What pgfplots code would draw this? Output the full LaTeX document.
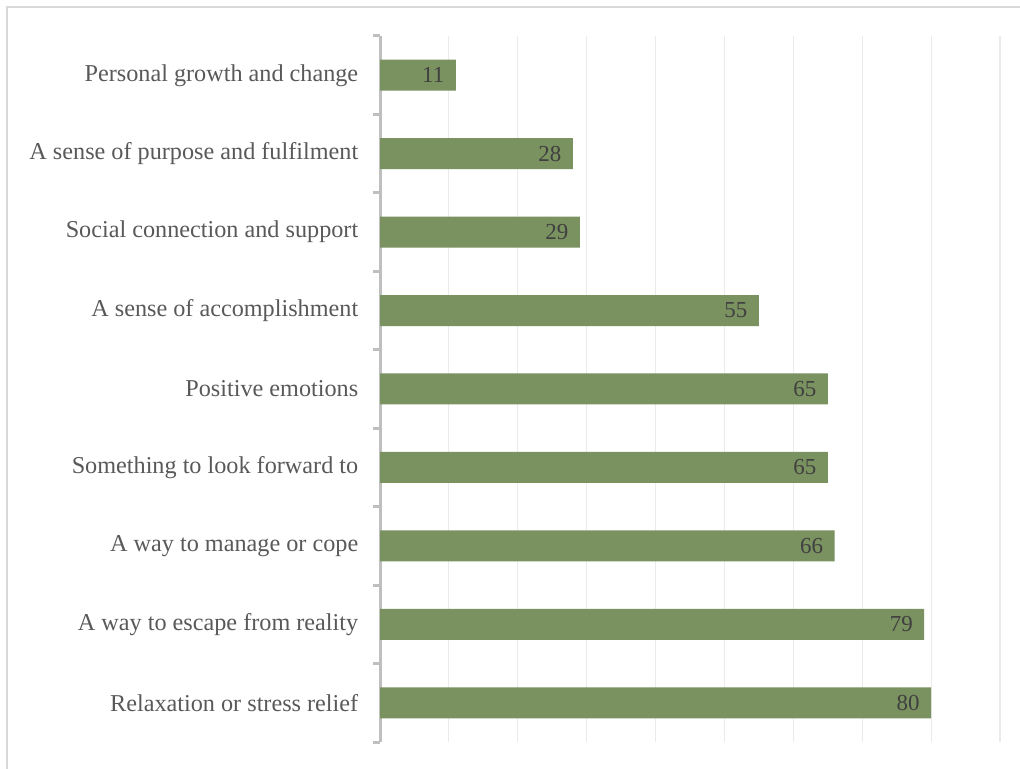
\documentclass[border=0pt]{standalone}
\usepackage{pgfplots}
\pgfplotsset{compat=1.18}
\usepackage{fontspec}
\setmainfont{Liberation Serif}
\definecolor{barc}{RGB}{122,145,96}
\definecolor{framec}{RGB}{217,217,217}
\definecolor{gridc}{RGB}{235,235,235}
\definecolor{axisc}{RGB}{191,191,191}
\definecolor{labc}{RGB}{89,89,89}
\definecolor{datc}{RGB}{64,64,64}
\begin{document}
\begin{tikzpicture}[x=1bp,y=1bp]
\useasboundingbox (0,0) rectangle (1020,769);
\fill[white] (0,0) rectangle (1020,769);
\draw[color=framec, line width=1.5bp] (7,0) -- (7,762) -- (1020,762);
\begin{axis}[
  at={(380bp,27bp)}, anchor=south west,
  scale only axis, width=620bp, height=706bp,
  xmin=0, xmax=90, ymin=-0.5, ymax=8.5,
  y dir=reverse, enlargelimits=false,
  xbar, bar width=31bp,
  axis lines*=left,
  axis line style={color=axisc, line width=3bp, -},
  x axis line style={draw=none},
  xtick={10,20,...,90}, xticklabels={},
  major x tick style={draw=none},
  xmajorgrids, grid style={color=gridc, line width=1.2bp},
  ytick={0,...,8},
  yticklabels={Personal growth and change, A sense of purpose and fulfilment, Social connection and support\ , A sense of accomplishment\ , Positive emotions\ , Something to look forward to, A way to manage or cope, A way to escape from reality, Relaxation or stress relief},
  major y tick style={draw=none},
  minor ytick={-0.5,0.5,...,8.5},
  minor tick length=7bp,
  tick align=outside,
  minor y tick style={color=axisc, line width=3bp},
  yticklabel style={font=\fontsize{24.3}{28}\selectfont, color=labc, anchor=east, xshift=-14bp},
  /pgf/number format/assume math mode=true,
  nodes near coords,
  every node near coord/.append style={anchor=east, xshift=-8bp, color=datc, font=\fontsize{23}{28}\selectfont},
]
\addplot[fill=barc, draw=none] coordinates {(11,0) (28,1) (29,2) (55,3) (65,4) (65,5) (66,6) (79,7) (80,8)};
\end{axis}
\end{tikzpicture}
\end{document}
